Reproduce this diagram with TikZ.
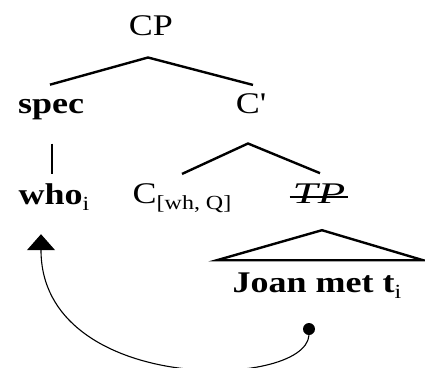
\documentclass[tikz,border=0pt]{standalone}
\usepackage{fontspec}
\setmainfont{Liberation Serif}
\usetikzlibrary{arrows.meta}
\usetikzlibrary{calc}
\newcommand{\widen}[1]{\scalebox{1.2}[1]{#1}}
\newcommand{\idx}[1]{\raisebox{-0.2em}{\fontsize{20bp}{22bp}\selectfont\mdseries #1}}
\tikzstyle{cat} = [font=\fontsize{30bp}{34bp}\selectfont, anchor=base, inner sep=0pt]
\tikzstyle{word} = [cat, font=\fontsize{30bp}{34bp}\selectfont\bfseries]
\tikzstyle{branch} = [line width=2.4bp]
\tikzstyle{arrow} = [line width=1.1bp, -{Triangle[width=28bp,length=16bp]}]

\begin{document}
\begin{tikzpicture}[x=1bp, y=-1bp]
    \useasboundingbox (0,0) rectangle (425,368);
    \node (CP) [cat] at (151,35) {\widen{CP}};
    \node (spec) [word] at (51,113) {\widen{spec}};
    \node (Cbar) [cat] at (251,113) {\widen{C\textquotesingle}};
    \node (whoi) [word] at (54,204) {\widen{who\idx{i}}};
    \node (Cwh) [cat] at (182,203) {\widen{C\idx{[wh, Q]}}};
    \node (TP) [cat] at (319,203) {\scalebox{1.5}[1]{\itshape TP}};
    \node (joan) [word] at (317,292) {\widen{Joan met t\idx{i}}};
    \node (trace) [circle, fill, inner sep=0pt, minimum size=12bp] at (309,329) {};
    \coordinate (tri) at ($(TP.south)+(3,27)$);

    % CP
    \draw[branch] ($(spec.north)+(-1,-14)$) -- ($(CP.south)+(-3,22)$) -- ($(Cbar.north)+(2,-8)$);
    % spec
    \draw[branch] ($(spec.south)+(1,24)$) -- ($(whoi.north)+(-2,-9)$);
    % C'
    \draw[branch] ($(Cwh.north)+(0,-9)$) -- ($(Cbar.south)+(-3,30)$) -- ($(TP.north)+(1,-10)$);
    % TP
    \draw[line width=1.8bp] ($(TP.base west)+(-3,-6)$) -- ($(TP.base east)+(3,-6)$);
    \draw[branch, line join=miter] (tri) -- ($(tri)+(-105,30)$) -- ($(tri)+(101,30)$) -- cycle;
    % movement
    \draw[arrow] (trace.south) .. controls +(-4,55) and +(0,160) .. ($(whoi.south)+(-13,24)$);
\end{tikzpicture}
\end{document}
